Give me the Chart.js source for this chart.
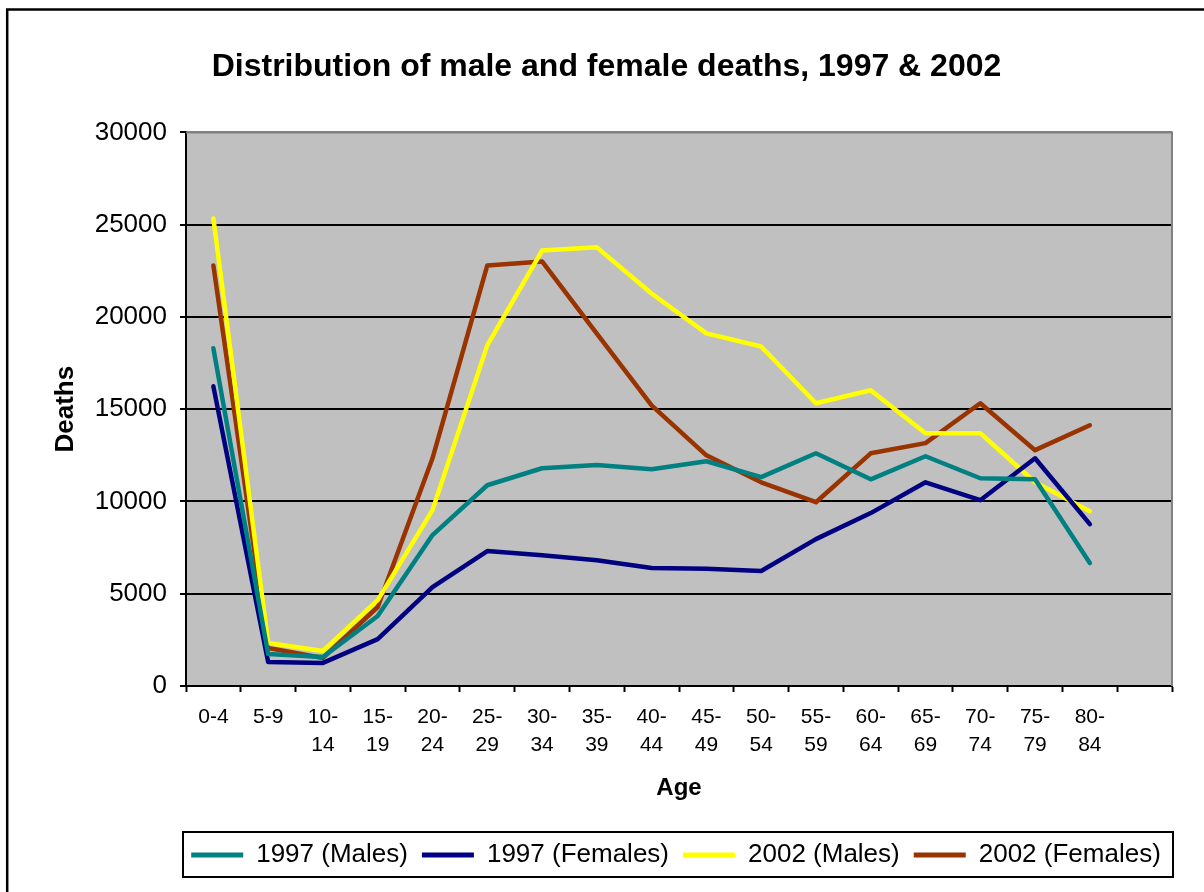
<!DOCTYPE html>
<html>
<head>
<meta charset="utf-8">
<script src="https://cdn.jsdelivr.net/npm/chart.js@4/dist/chart.umd.min.js"></script>
<style>
  body { margin: 0; background: #fff; }
  canvas { display: block; }
</style>
</head>
<body>
<canvas id="deathsChart" width="1204" height="892"></canvas>
<script>
// Age groups on the x axis (one extra empty slot at the end, as in the original)
const ageGroups = ['0-4', '5-9', '10-14', '15-19', '20-24', '25-29', '30-34', '35-39', '40-44',
    '45-49', '50-54', '55-59', '60-64', '65-69', '70-74', '75-79', '80-84'];

// Deaths per age group
const males1997 = [18300, 1730, 1570, 3790, 8180, 10880, 11800, 11970, 11750, 12180, 11320, 12610, 11200, 12450, 11260, 11200, 6660];
const females1997 = [16240, 1300, 1250, 2540, 5360, 7310, 7090, 6820, 6390, 6360, 6230, 7960, 9370, 11040, 10070, 12340, 8770];
const males2002 = [25340, 2330, 1900, 4650, 9530, 18460, 23600, 23770, 21270, 19110, 18400, 15320, 16030, 13700, 13700, 11040, 9470];
const females2002 = [22790, 2060, 1520, 4280, 12340, 22790, 23010, 19100, 15210, 12500, 11040, 9960, 12610, 13160, 15320, 12780, 14130];

const yTicks = [0, 5000, 10000, 15000, 20000, 25000, 30000];

Chart.defaults.font.family = '"Liberation Sans", Arial, sans-serif';
Chart.defaults.color = '#000';

// Background, plot area fill and frame lines
const chartFrame = {
    id: 'chartFrame',
    beforeDraw(chart) {
        const {ctx, chartArea: a} = chart;
        ctx.save();
        ctx.fillStyle = '#fff';
        ctx.fillRect(0, 0, chart.width, chart.height);
        ctx.fillStyle = '#c0c0c0';
        ctx.fillRect(a.left, a.top, a.right - a.left, a.bottom - a.top);
        ctx.strokeStyle = '#000';
        ctx.lineWidth = 2.5;
        ctx.strokeRect(7.2, 9.5, 3000, 3000);
        ctx.restore();
    },
    beforeDatasetsDraw(chart) {
        const {ctx, chartArea: a} = chart;
        ctx.save();
        ctx.strokeStyle = '#808080';
        ctx.lineWidth = 2;
        ctx.beginPath();
        ctx.moveTo(a.left, a.top);
        ctx.lineTo(a.right, a.top);
        ctx.lineTo(a.right, a.bottom);
        ctx.stroke();
        ctx.restore();
    },
    afterLayout(chart) {
        // shift the legend row so it sits under the plot area, and centre the title on the page
        chart.legend.left = 148;
        chart.legend.right = 1204;
        chart.legend.width = 1204 - 148;
        if (chart.titleBlock) {
            chart.titleBlock.left = 9;
            chart.titleBlock.right = 1204;
            chart.titleBlock.width = 1195;
        }
    },
    afterDraw(chart) {
        const {ctx, chartArea: a} = chart;
        ctx.save();
        ctx.strokeStyle = '#000';
        ctx.lineWidth = 2;
        ctx.strokeRect(a.left - 3, 832, a.right - a.left + 4, 45);
        ctx.restore();
    }
};

function series(label, data, color) {
    return {
        label: label,
        data: data,
        borderColor: color,
        backgroundColor: color,
        borderWidth: 4.5,
        pointRadius: 0,
        tension: 0,
        borderCapStyle: 'round',
        borderJoinStyle: 'round'
    };
}

const ctx = document.getElementById('deathsChart').getContext('2d');

const deathsChart = new Chart(ctx, {
    type: 'line',
    data: {
        labels: [...ageGroups, ''],
        datasets: [
            series('1997 (Males)', males1997, '#008080'),
            series('1997 (Females)', females1997, '#000080'),
            series('2002 (Males)', males2002, '#ffff00'),
            series('2002 (Females)', females2002, '#993300')
        ]
    },
    options: {
        responsive: false,
        animation: false,
        devicePixelRatio: 1,
        layout: {
            padding: {left: 0, right: 32, top: 0, bottom: 14}
        },
        scales: {
            x: {
                offset: true,
                grid: {
                    offset: true,
                    drawOnChartArea: false,
                    tickLength: 6,
                    tickColor: '#000',
                    tickWidth: 2
                },
                border: {color: '#000', width: 2},
                ticks: {
                    autoSkip: false,
                    maxRotation: 0,
                    padding: 12,
                    font: {size: 21, lineHeight: 1.3},
                    callback: function (value) {
                        const label = this.getLabelForValue(value);
                        if (label.length > 3) {
                            const parts = label.split('-');
                            return [parts[0] + '-', parts[1]];
                        }
                        return label;
                    }
                },
                title: {
                    display: true,
                    text: 'Age',
                    font: {size: 24, weight: 'bold'},
                    padding: {top: 25, bottom: 25}
                },
                afterFit: s => { s.height = 142; }
            },
            y: {
                min: 0,
                max: 30000,
                afterBuildTicks: s => { s.ticks = yTicks.map(v => ({value: v})); },
                grid: {
                    color: c => (c.tick && c.tick.value === 30000) ? '#808080' : '#000',
                    lineWidth: 2,
                    tickLength: 6,
                    tickColor: '#000',
                    tickWidth: 2
                },
                border: {color: '#000', width: 2},
                ticks: {
                    padding: 13,
                    font: {size: 26},
                    callback: v => String(v)
                },
                title: {
                    display: true,
                    text: 'Deaths',
                    font: {size: 26, weight: 'bold'},
                    padding: {top: 50, bottom: 50}
                },
                afterFit: s => { s.width = 186; }
            }
        },
        plugins: {
            title: {
                display: true,
                text: 'Distribution of male and female deaths, 1997 & 2002',
                font: {size: 32, weight: 'bold'},
                padding: {top: 48, bottom: 46}
            },
            legend: {
                position: 'bottom',
                labels: {
                    boxWidth: 52,
                    boxHeight: 5,
                    padding: 14,
                    font: {size: 26},
                    generateLabels: chart => Chart.defaults.plugins.legend.labels.generateLabels(chart)
                        .map(item => ({...item, lineWidth: 0}))
                }
            },
            tooltip: {enabled: false}
        }
    },
    plugins: [chartFrame]
});
</script>
</body>
</html>
